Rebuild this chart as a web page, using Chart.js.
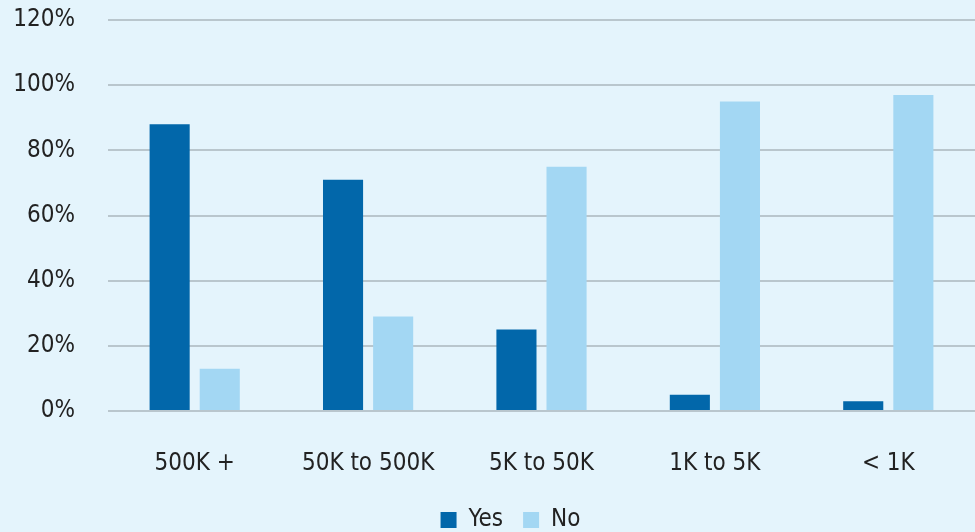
<!DOCTYPE html>
<html>
<head>
<meta charset="utf-8">
<script src="https://cdn.jsdelivr.net/npm/chart.js@4"></script>
<style>
  html, body { margin: 0; padding: 0; background: #e4f4fc; }
  #wrap { width: 975px; height: 532px; position: relative; }
</style>
</head>
<body>
<div id="wrap"><canvas id="c" width="975" height="532"></canvas></div>
<script>
const categories = ["500K +", "50K to 500K", "5K to 50K", "1K to 5K", "< 1K"];
const yesValues = [88, 71, 25, 5, 3];
const noValues = [13, 29, 75, 95, 97];
const seriesNames = ["Yes", "No"];
const yTicks = [0, 20, 40, 60, 80, 100, 120];

const FONT = "'DejaVu Sans Condensed', 'Open Sans', sans-serif";

const shiftLegend = {
  id: 'shiftLegend',
  afterLayout(chart) {
    if (chart.legend) { chart.legend.left += 18; chart.legend.right += 18; }
  }
};

new Chart(document.getElementById('c'), {
  type: 'bar',
  data: {
    labels: categories,
    datasets: [
      { label: seriesNames[0], data: yesValues, backgroundColor: '#0267aa', barPercentage: 0.8, categoryPercentage: 0.578 },
      { label: seriesNames[1], data: noValues, backgroundColor: '#a3d7f3', barPercentage: 0.8, categoryPercentage: 0.578 }
    ]
  },
  plugins: [shiftLegend],
  options: {
    responsive: false,
    animation: false,
    layout: { padding: { top: 20, right: 0, left: 10, bottom: -10 } },
    scales: {
      x: {
        grid: { display: false, drawTicks: false },
        border: { display: false },
        ticks: { color: '#222', font: { family: FONT, size: 24 }, padding: 38 },
        afterFit: (axis) => { axis.height = 77; }
      },
      y: {
        min: 0, max: 120,
        afterBuildTicks: (axis) => { axis.ticks = yTicks.map(v => ({ value: v })); },
        grid: { color: '#b9c6cd', lineWidth: 2, drawTicks: false },
        border: { display: false },
        ticks: { color: '#222', font: { family: FONT, size: 24 }, padding: 33, callback: v => v + '%' },
        afterFit: (axis) => { axis.width = 98; axis.paddingTop = 0; axis.paddingBottom = 0; }
      }
    },
    plugins: {
      legend: {
        position: 'bottom',
        labels: { boxWidth: 16, boxHeight: 16, color: '#222', font: { family: FONT, size: 24 }, padding: 20 }
      },
      tooltip: { enabled: false }
    }
  }
});
</script>
</body>
</html>
